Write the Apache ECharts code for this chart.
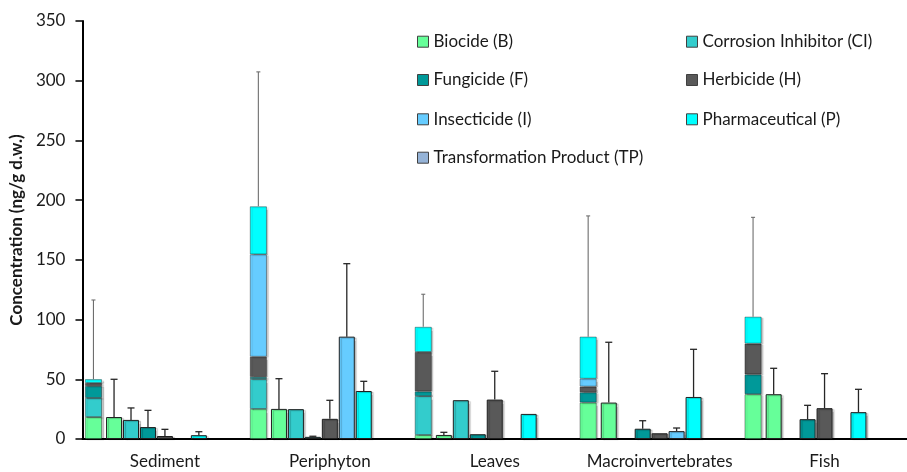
<!DOCTYPE html>
<html><head><meta charset="utf-8">
<script src="https://cdn.jsdelivr.net/npm/echarts@6/dist/echarts.min.js"></script>
<style>html,body{margin:0;padding:0;background:#fff}#c{width:907px;height:472px}</style>
</head><body><div id="c"></div>
<script>
// ---------------- data ----------------
const categories = ['Sediment', 'Periphyton', 'Leaves', 'Macroinvertebrates', 'Fish'];
const classNames = ['Biocide (B)', 'Corrosion Inhibitor (CI)', 'Fungicide (F)', 'Herbicide (H)',
                    'Insecticide (I)', 'Pharmaceutical (P)', 'Transformation Product (TP)'];
const classColors = ['#66FF99', '#33CCCC', '#009999', '#595959', '#66CCFF', '#00FFFF', '#95B3D7'];

// mean concentrations (ng/g d.w.)
const biocide               = [18.4, 25.2, 3.4, 30.5, 37.5];
const corrosionInhibitor    = [16.0, 25.0, 32.5, null, null];
const fungicide             = [10.0, 1.8, 4.0, 8.6, 16.6];
const herbicide             = [2.5, 16.9, 33.0, 4.8, 25.8];
const insecticide           = [null, 85.7, null, 6.6, null];
const pharmaceutical        = [3.2, 40.2, 21.0, 35.2, 22.5];
const transformationProduct = [null, null, null, null, null];

// standard deviations (upper error bars)
const biocideSD               = [31.6, 25.3, 2.2, 50.5, 21.7];
const corrosionInhibitorSD    = [10.0, null, null, null, null];
const fungicideSD             = [14.0, 0.5, null, 6.7, 11.6];
const herbicideSD             = [5.6, 15.5, 23.7, null, 28.9];
const insecticideSD           = [null, 61.1, null, 2.6, null];
const pharmaceuticalSD        = [2.9, 8.1, null, 39.9, 19.1];
const transformationProductSD = [null, null, null, null, null];
const totalSD                 = [66.3, 112.6, 27.3, 101.1, 83.2];

const yTicks = [0, 50, 100, 150, 200, 250, 300, 350];

// ---------------- build ----------------
const classValues = [biocide, corrosionInhibitor, fungicide, herbicide, insecticide, pharmaceutical, transformationProduct];
const classSD = [biocideSD, corrosionInhibitorSD, fungicideSD, herbicideSD, insecticideSD, pharmaceuticalSD, transformationProductSD];

const FONT = 'Lato';
const BAR_W = 16, BAR_GAP = 0.06;
const STACK_W = 17, STACK_GAP = 7.41;
const PITCH = BAR_W * (1 + BAR_GAP);
const STACK_OFFSET = -(STACK_W * (2 + STACK_GAP)) / 2 + STACK_W / 2;

const totals = categories.map((c, i) => classValues.reduce((s, a) => s + (a[i] == null ? 0 : a[i]), 0));

const series = [];
// stacked total bars (hidden x axis 1)
classNames.forEach((n, k) => {
  series.push({
    name: n, type: 'bar', xAxisIndex: 1, stack: 'total', barWidth: STACK_W, barGap: STACK_GAP * 100 + '%',
    data: classValues[k],
    itemStyle: { color: classColors[k], borderColor: 'rgba(0,0,0,0.45)', borderWidth: 0.8,
                 shadowColor: 'rgba(0,0,0,0.22)', shadowBlur: 1, shadowOffsetX: 2, shadowOffsetY: 1 },
    emphasis: { disabled: true }
  });
});
series.push({ name: '_pad', type: 'bar', xAxisIndex: 1, barWidth: STACK_W, barGap: STACK_GAP * 100 + '%',
  data: categories.map(() => null) });
// individual bars
classNames.forEach((n, k) => {
  series.push({
    name: n, type: 'bar', xAxisIndex: 0, barWidth: BAR_W, barGap: BAR_GAP * 100 + '%',
    data: classValues[k],
    itemStyle: { color: classColors[k], borderColor: '#1f1f1f', borderWidth: 1,
                 shadowColor: 'rgba(0,0,0,0.22)', shadowBlur: 1, shadowOffsetX: 2, shadowOffsetY: 1 },
    emphasis: { disabled: true }
  });
});

// error bars
const errData = [];
classNames.forEach((n, k) => {
  categories.forEach((c, i) => {
    if (classValues[k][i] != null && classSD[k][i] != null)
      errData.push([i, classValues[k][i], classValues[k][i] + classSD[k][i], k]);
  });
});
categories.forEach((c, i) => errData.push([i, totals[i], totals[i] + totalSD[i], -1]));

series.push({
  type: 'custom', xAxisIndex: 0, z: 5, clip: false, silent: true,
  data: errData,
  encode: { x: 0, y: [1, 2] },
  renderItem: function (params, api) {
    const ci = api.value(0), lo = api.value(1), hi = api.value(2), slot = api.value(3);
    const b = api.coord([ci, lo]);
    const t = api.coord([ci, hi]);
    const isTotal = slot < 0;
    const x = b[0] + (isTotal ? STACK_OFFSET : (slot - 3) * PITCH);
    const cap = isTotal ? 2 : 3.5;
    const st = { stroke: isTotal ? '#6e6e6e' : '#262626', lineWidth: isTotal ? 1.1 : 1.3 };
    return { type: 'group', children: [
      { type: 'line', shape: { x1: x, y1: b[1], x2: x, y2: t[1] }, style: st },
      { type: 'line', shape: { x1: x - cap, y1: t[1], x2: x + cap, y2: t[1] }, style: st }
    ]};
  }
});

// legends: two columns
const legendCols = [417, 686];
const legendRows = [41.7, 80, 119.3, 157.7];
const legends = classNames.map((n, k) => ({
  data: [n], left: legendCols[k % 2], top: legendRows[Math.floor(k / 2)] - 8.5, padding: 0,
  icon: 'rect', itemWidth: 11, itemHeight: 11, selectedMode: false,
  itemStyle: { borderColor: '#404040', borderWidth: 1 },
  textStyle: { fontFamily: FONT, fontSize: 17, color: '#1a1a1a' }
}));

const chart = echarts.init(document.getElementById('c'), null, { renderer: 'canvas' });
chart.setOption({
  animation: false,
  backgroundColor: '#fff',
  grid: { left: 80, top: 21, width: 835, height: 418, containLabel: false },
  legend: legends,
  xAxis: [
    { type: 'category', data: categories,
      axisLine: { lineStyle: { color: '#000', width: 2 } },
      axisTick: { alignWithLabel: true, length: 4, lineStyle: { color: '#000', width: 1.5 } },
      axisLabel: { interval: 0, fontFamily: FONT, fontSize: 17, color: '#1a1a1a', margin: 14 } },
    { type: 'category', data: categories, show: false }
  ],
  yAxis: {
    type: 'value', min: yTicks[0], max: yTicks[yTicks.length - 1], interval: 50,
    name: 'Concentration (ng/g d.w.)', nameLocation: 'middle', nameGap: 52, nameRotate: 90,
    nameTextStyle: { fontFamily: FONT, fontSize: 17, fontWeight: 'bold', color: '#1a1a1a' },
    axisLine: { show: true, lineStyle: { color: '#000', width: 2 } },
    axisTick: { show: true, length: 7, lineStyle: { color: '#000', width: 1.5 } },
    axisLabel: { fontFamily: FONT, fontSize: 17, color: '#1a1a1a', margin: 17 },
    splitLine: { show: false }
  },
  series: series
});
</script></body></html>
